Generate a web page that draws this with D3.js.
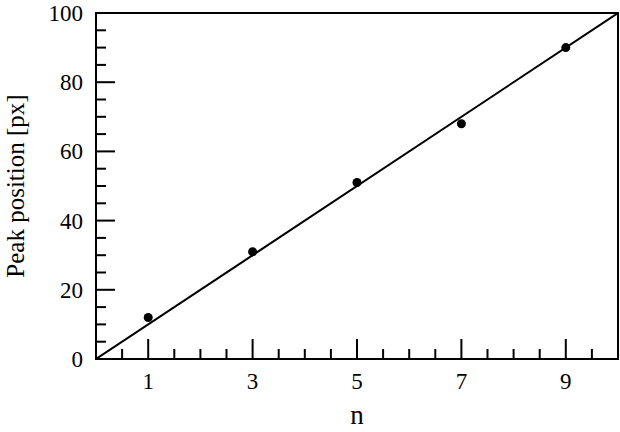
<!DOCTYPE html>
<html><head><meta charset="utf-8">
<script src="https://cdn.jsdelivr.net/npm/d3@7"></script>
<style>body{margin:0;background:#fff}svg{display:block}</style>
</head><body>
<svg id="c" width="620" height="432"></svg>
<script>
const nValues = [1, 3, 5, 7, 9];
const peakValues = [12, 31, 51, 68, 90];
const fitLine = [[0, 0], [10, 100]];
const xMajorTicks = [1, 3, 5, 7, 9];
const yMajorTicks = [0, 20, 40, 60, 80, 100];

const FONT = "'Liberation Serif', Tinos, 'Times New Roman', Times, 'Nimbus Roman', serif";
const W = 620, H = 432;
const m = {left: 96, right: 2, top: 13, bottom: 73};
const svg = d3.select("#c").attr("font-family", FONT);
const x = d3.scaleLinear().domain([0, 10]).range([m.left, W - m.right]);
const y = d3.scaleLinear().domain([0, 100]).range([H - m.bottom, m.top]);

const xMinor = d3.range(0.5, 10, 0.5).filter(v => !xMajorTicks.includes(v));
const yMinor = d3.range(5, 100, 5).filter(v => !yMajorTicks.includes(v));

const g = svg.append("g");
g.append("rect").attr("x", x(0)).attr("y", y(100)).attr("width", x(10) - x(0)).attr("height", y(0) - y(100))
  .attr("fill", "none").attr("stroke", "#000").attr("stroke-width", 2);

g.selectAll(".xmaj").data(xMajorTicks).enter().append("line")
  .attr("x1", d => x(d)).attr("x2", d => x(d)).attr("y1", y(0)).attr("y2", y(0) - 20)
  .attr("stroke", "#000").attr("stroke-width", 2);
g.selectAll(".xmin").data(xMinor).enter().append("line")
  .attr("x1", d => x(d)).attr("x2", d => x(d)).attr("y1", y(0)).attr("y2", y(0) - 10)
  .attr("stroke", "#000").attr("stroke-width", 2);
g.selectAll(".xl").data(xMajorTicks).enter().append("text")
  .attr("x", d => x(d)).attr("y", 389).attr("text-anchor", "middle").attr("font-size", 23)
  .attr("font-family", FONT).text(d => d);

g.selectAll(".ymaj").data(yMajorTicks).enter().append("line")
  .attr("x1", x(0)).attr("x2", x(0) + 19).attr("y1", d => y(d)).attr("y2", d => y(d))
  .attr("stroke", "#000").attr("stroke-width", 2);
g.selectAll(".ymin").data(yMinor).enter().append("line")
  .attr("x1", x(0)).attr("x2", x(0) + 10).attr("y1", d => y(d)).attr("y2", d => y(d))
  .attr("stroke", "#000").attr("stroke-width", 2);
g.selectAll(".yl").data(yMajorTicks).enter().append("text")
  .attr("x", 83).attr("y", d => y(d) + 8).attr("text-anchor", "end").attr("font-size", 23)
  .attr("font-family", FONT).text(d => d);

svg.append("clipPath").attr("id", "clp").append("rect")
  .attr("x", x(0)).attr("y", y(100)).attr("width", x(10) - x(0)).attr("height", y(0) - y(100));
g.append("path").datum(fitLine).attr("clip-path", "url(#clp)")
  .attr("d", d3.line().x(d => x(d[0])).y(d => y(d[1])))
  .attr("fill", "none").attr("stroke", "#000").attr("stroke-width", 2);

g.selectAll(".pt").data(nValues).enter().append("circle")
  .attr("cx", d => x(d)).attr("cy", (d, i) => y(peakValues[i])).attr("r", 4.5).attr("fill", "#000");

g.append("text").attr("x", (x(0) + x(10)) / 2).attr("y", 424).attr("text-anchor", "middle")
  .attr("font-size", 27).attr("font-family", FONT).text("n");
g.append("text").attr("transform", `translate(24,${(y(0) + y(100)) / 2}) rotate(-90)`)
  .attr("text-anchor", "middle").attr("font-size", 25).attr("font-family", FONT).text("Peak position [px]");
</script>
</body></html>
